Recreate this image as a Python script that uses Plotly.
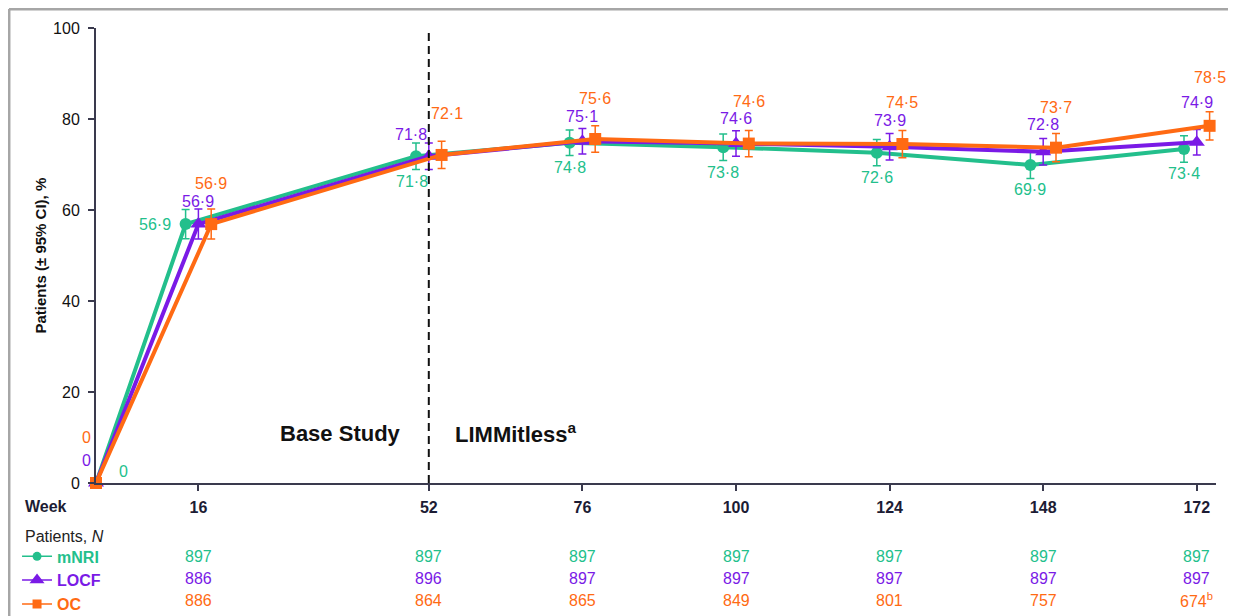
import plotly.graph_objects as go

# ---------------- data ----------------
weeks = [0, 16, 52, 76, 100, 124, 148, 172]
tick_weeks = [16, 52, 76, 100, 124, 148, 172]

mnri = [0, 56.9, 71.8, 74.8, 73.8, 72.6, 69.9, 73.4]
locf = [0, 56.9, 71.8, 75.1, 74.6, 73.9, 72.8, 74.9]
oc = [0, 56.9, 72.1, 75.6, 74.6, 74.5, 73.7, 78.5]

mnri_ci = [0, 3.2, 2.9, 2.8, 2.9, 2.9, 3.0, 2.9]
locf_ci = [0, 3.3, 2.9, 2.8, 2.8, 2.9, 2.9, 2.8]
oc_ci = [0, 3.3, 3.0, 2.9, 2.9, 3.0, 3.1, 3.1]

n_mnri = ["897", "897", "897", "897", "897", "897", "897"]
n_locf = ["886", "896", "897", "897", "897", "897", "897"]
n_oc = ["886", "864", "865", "849", "801", "757", "674<sup>b</sup>"]

# ---------------- style ----------------
GREEN = "#23bf8c"
PURPLE = "#7a1ae6"
ORANGE = "#ff6a13"
DARK = "#1c1c34"
FONT = "Liberation Sans, Arial, Helvetica, sans-serif"

series = [
    dict(name="mNRI", y=mnri, ci=mnri_ci, color=GREEN, symbol="circle", size=12, lsize=9, dodge=-2.0,
         offs=[(27, -12), (-31, 0), (-4, 25), (0, 25), (0, 25), (0, 25), (0, 25), (0, 24)]),
    dict(name="LOCF", y=locf, ci=locf_ci, color=PURPLE, symbol="triangle-up", size=14, lsize=13, dodge=0.0,
         offs=[(-10, -23), (0, -23), (-18, -22), (0, -25), (0, -25), (0, -26), (0, -27), (0, -40)]),
    dict(name="OC", y=oc, ci=oc_ci, color=ORANGE, symbol="square", size=12, lsize=9, dodge=2.0,
         offs=[(-10, -46), (0, -41), (5, -41), (0, -41), (0, -42), (0, -42), (0, -40), (0, -48)]),
]


def fmt(v):
    return "0" if v == 0 else f"{v:.1f}".replace(".", "·")


fig = go.Figure()
annotations = []

for s in series:
    xs = [w + (s["dodge"] if w > 0 else 0) for w in weeks]
    fig.add_trace(go.Scatter(
        x=xs, y=s["y"], mode="lines+markers", showlegend=False, name=s["name"],
        line=dict(color=s["color"], width=4),
        marker=dict(symbol=s["symbol"], size=s["size"], color=s["color"]),
        error_y=dict(type="data", array=s["ci"], visible=True, color=s["color"],
                     thickness=1.5, width=4),
        cliponaxis=False,
    ))
    for x, v, (dx, dy) in zip(xs, s["y"], s["offs"]):
        annotations.append(dict(
            x=x, y=v, xref="x", yref="y", text=fmt(v), showarrow=False,
            xshift=dx, yshift=-dy, font=dict(family=FONT, size=16, color=s["color"]),
            xanchor="center", yanchor="middle"))

# legend key entries (small markers, thin line, like the reference key)
for s in series:
    fig.add_trace(go.Scatter(
        x=[None], y=[None], mode="lines+markers", legendgroup=s["name"],
        name=f"<b><span style='color:{s['color']}'>{s['name']}</span></b>",
        line=dict(color=s["color"], width=1.5),
        marker=dict(symbol=s["symbol"], size=s["lsize"], color=s["color"]),
    ))

# N table
for row, color, dy in [(n_mnri, GREEN, 73), (n_locf, PURPLE, 95), (n_oc, ORANGE, 117)]:
    for w, t in zip(tick_weeks, row):
        annotations.append(dict(
            x=w, y=0, xref="x", yref="y", text=t, showarrow=False, yshift=-dy,
            font=dict(family=FONT, size=16, color=color), xanchor="center", yanchor="middle"))

annotations += [
    dict(x=0, y=0.5, xref="paper", yref="paper", text="<b>Patients (± 95% CI), %</b>",
         showarrow=False, textangle=-90, xshift=-56, xanchor="center", yanchor="middle",
         font=dict(family=FONT, size=15, color="#111111")),
    dict(x=0, y=0, xref="paper", yref="y", text="<b>Week</b>", showarrow=False,
         xshift=-73, yshift=-23, xanchor="left", yanchor="middle",
         font=dict(family=FONT, size=16, color=DARK)),
    dict(x=0, y=0, xref="paper", yref="y", text="Patients, <i>N</i>", showarrow=False,
         xshift=-73, yshift=-53, xanchor="left", yanchor="middle",
         font=dict(family=FONT, size=16, color="#222222")),
    dict(x=52, y=0, xref="x", yref="y", text="<b>Base Study</b>", showarrow=False,
         xshift=-26, yshift=50, xanchor="right", yanchor="middle",
         font=dict(family=FONT, size=22, color="#111111")),
    dict(x=52, y=0, xref="x", yref="y", text="<b>LIMMitless<sup>a</sup></b>", showarrow=False,
         xshift=24, yshift=50, xanchor="left", yanchor="middle",
         font=dict(family=FONT, size=22, color="#111111")),
]

shapes = [
    dict(type="line", xref="x", yref="y", x0=52, x1=52, y0=0, y1=99,
         line=dict(color="#111111", width=2, dash="8px,5px")),
    # outer frame (top & left)
    dict(type="line", xref="paper", yref="paper", x0=-0.0777, x1=1.03, y0=1.0418, y1=1.0418,
         line=dict(color="#a6a6a6", width=3)),
    dict(type="line", xref="paper", yref="paper", x0=-0.0777, x1=-0.0777, y0=1.0418, y1=-0.3,
         line=dict(color="#a6a6a6", width=3)),
]

# the page body adds an 8px margin, so the figure is sized/shifted to compensate
fig.update_layout(
    width=1228, height=608,
    margin=dict(l=88, r=20, t=20, b=133, autoexpand=False),
    plot_bgcolor="white", paper_bgcolor="white",
    showlegend=True,
    legend=dict(x=-0.0705, xanchor="left", y=-0.124, yanchor="top",
                font=dict(family=FONT, size=16), itemwidth=30,
                traceorder="grouped", tracegroupgap=0,
                bgcolor="rgba(0,0,0,0)"),
    annotations=annotations, shapes=shapes,
    xaxis=dict(range=[0, 175], tickvals=tick_weeks, ticktext=[f"<b>{w}</b>" for w in tick_weeks],
               showline=True, linecolor="#3a3a4e", linewidth=2, ticks="outside", ticklen=6,
               tickcolor="#3a3a4e", tickwidth=1.5, showgrid=False, zeroline=False,
               ticklabelstandoff=3,
               tickfont=dict(family=FONT, size=16, color=DARK)),
    yaxis=dict(range=[0, 100], tickvals=[0, 20, 40, 60, 80, 100], showline=True,
               linecolor="#3a3a4e", linewidth=2, ticks="outside", ticklen=6, tickcolor="#3a3a4e",
               tickwidth=1.5, showgrid=False, zeroline=False, ticklabelstandoff=5,
               tickfont=dict(family=FONT, size=16, color="#111111")),
)

fig.write_html("out.html")
